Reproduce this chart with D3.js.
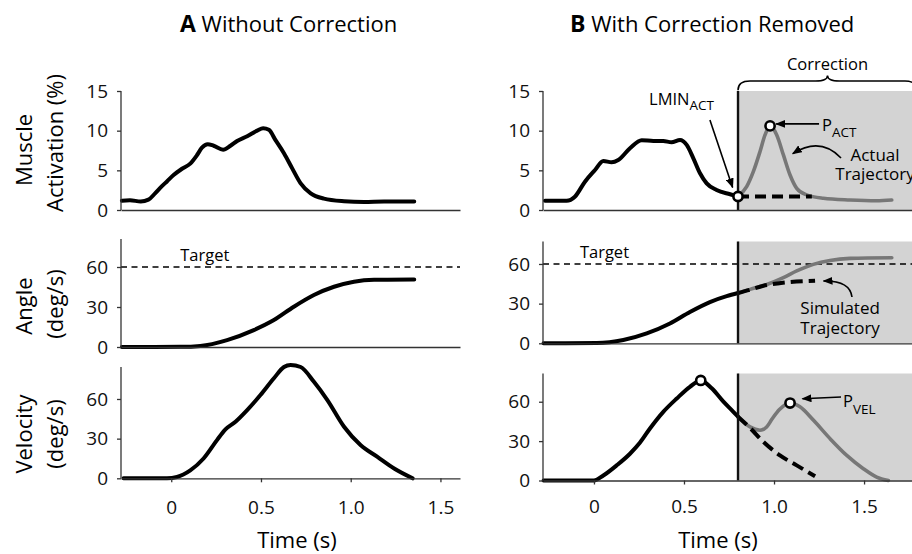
<!DOCTYPE html>
<html><head><meta charset="utf-8">
<script src="https://cdn.jsdelivr.net/npm/d3@7"></script>
<style>body{margin:0;background:#fff} svg{display:block;font-family:"Open Sans",sans-serif}</style>
</head><body><svg id="c" width="912" height="554"></svg>
<script>
// ---------- data ----------
const timeTicks = [0, 0.5, 1.0, 1.5];
const timeTickLabels = ["0", "0.5", "1.0", "1.5"];
const actTicks = [0, 5, 10, 15];
const angleTicks = [0, 30, 60];
const velTicks = [0, 30, 60];
const targetAngle = 60;
const correctionStart = 0.8;

// Panel A – without correction
const actA = [[-0.275,1.17],[-0.23,1.22],[-0.17,1.08],[-0.127,1.3],[-0.09,2.1],[-0.052,3.0],[-0.024,3.6],[0.013,4.4],[0.06,5.2],[0.106,5.85],[0.143,6.9],[0.171,7.85],[0.203,8.3],[0.236,8.1],[0.289,7.6],[0.33,8.1],[0.367,8.7],[0.423,9.3],[0.479,10.0],[0.512,10.3],[0.544,10.1],[0.581,8.8],[0.628,7.15],[0.674,5.25],[0.72,3.4],[0.777,2.1],[0.851,1.43],[0.963,1.1],[1.074,1.0],[1.186,1.08],[1.354,1.08]];
const angleA = [[-0.275,0],[-0.1,0],[0.05,0.1],[0.162,0.8],[0.311,5.2],[0.46,12.7],[0.572,20.2],[0.683,30.2],[0.795,39],[0.907,45.2],[1.018,49],[1.13,50.4],[1.354,50.6]];
const velA = [[-0.266,0],[-0.024,0],[0.032,1],[0.106,6],[0.18,15],[0.255,28.9],[0.302,37],[0.358,42.8],[0.423,51.6],[0.497,63],[0.572,75.7],[0.628,84.2],[0.665,85.8],[0.721,84.2],[0.795,73],[0.87,59.2],[0.963,39],[1.056,25],[1.149,16.2],[1.242,7.4],[1.345,0]];

// Panel B – with correction removed
const actB = [[-0.272,1.17],[-0.152,1.17],[-0.106,1.68],[-0.05,3.57],[0.006,5.04],[0.052,6.18],[0.098,6.01],[0.135,6.3],[0.2,7.78],[0.265,8.8],[0.33,8.7],[0.385,8.7],[0.431,8.54],[0.478,8.83],[0.515,8.2],[0.552,6.52],[0.589,4.63],[0.626,3.36],[0.681,2.52],[0.756,1.98],[0.8,1.7]];
const actBActual = [[0.8,1.7],[0.848,2.94],[0.885,4.83],[0.922,7.35],[0.95,9.46],[0.978,10.6],[1.015,9.46],[1.052,6.94],[1.089,4.41],[1.126,2.73],[1.181,1.9],[1.274,1.47],[1.422,1.26],[1.57,1.17],[1.654,1.26]];
const actBSim = [[0.8,1.7],[1.21,1.7]];
const angleB = [[-0.28,0],[0.015,0.2],[0.163,2.5],[0.293,7.5],[0.422,15],[0.533,23.7],[0.644,31.2],[0.737,35.7],[0.8,38]];
const angleBActual = [[0.8,38],[0.867,40.8],[0.96,44.5],[1.052,49.7],[1.126,54.7],[1.218,59.7],[1.311,62.7],[1.422,64.2],[1.654,64.7]];
const angleBSim = [[0.8,38],[0.867,40.5],[0.941,43.5],[1.02,45.3],[1.089,46.3],[1.228,47.3]];
const velB = [[-0.28,0],[0,0],[0.052,3.8],[0.126,11.5],[0.2,20.4],[0.256,28.9],[0.311,39.6],[0.385,52.3],[0.46,62.5],[0.533,71.4],[0.593,76.2],[0.654,70.2],[0.719,60],[0.774,52.3],[0.8,48.6]];
const velBActual = [[0.8,48.6],[0.867,40.8],[0.922,38.3],[0.959,40.8],[0.99,47],[1.03,54],[1.089,59],[1.144,56.1],[1.218,46],[1.311,31.9],[1.404,19.1],[1.496,9],[1.57,2.6],[1.635,0]];
const velBSim = [[0.8,48.6],[0.867,40],[0.941,29.4],[1.033,19.1],[1.126,11.5],[1.228,3.3]];

// marked points
const lminAct = [0.8, 1.7];
const pAct = [0.978, 10.6];
const peakVel = [0.593, 76.2];
const pVel = [1.089, 59];

// ---------- drawing ----------
const svg = d3.select("#c");
const FONT = '"Open Sans", sans-serif';
const GRAYLINE = "#777";
const SHADE = "#d3d3d3";

const defs = svg.append("defs");
defs.append("marker").attr("id","ah").attr("markerUnits","userSpaceOnUse")
  .attr("markerWidth",10).attr("markerHeight",8).attr("refX",9).attr("refY",4)
  .attr("orient","auto").append("path").attr("d","M0,0L10,4L0,8Z").attr("fill","#000");

const cols = {
  A: {range:[121,460], domain:[-0.28,1.609]},
  B: {range:[543,917], domain:[-0.283,1.794]}
};
const rows = {
  A: [ {range:[210,91], domain:[0,15], ticks:actTicks},
       {range:[347,239], domain:[0,81], ticks:angleTicks},
       {range:[478.3,367], domain:[0,84.2], ticks:velTicks} ],
  B: [ {range:[210,91], domain:[0,15], ticks:actTicks},
       {range:[343.3,241.5], domain:[0,77], ticks:angleTicks},
       {range:[480.5,373.5], domain:[0,81.5], ticks:velTicks} ]
};
const xPad = {A:18, B:15};

function makePanel(col, r) {
  const c = cols[col], rw = rows[col][r];
  const x = d3.scaleLinear().domain(c.domain).range(c.range);
  const y = d3.scaleLinear().domain(rw.domain).range(rw.range);
  return {x, y, rw, c};
}

function line(p, data) {
  return d3.line().x(d => p.x(d[0])).y(d => p.y(d[1])).curve(d3.curveMonotoneX)(data);
}

function drawCurve(p, data, color, width, dash) {
  const path = svg.append("path").attr("d", line(p, data)).attr("fill","none")
    .attr("stroke", color).attr("stroke-width", width)
    .attr("stroke-linejoin","round").attr("stroke-linecap", dash ? "butt" : "round");
  if (dash) path.attr("stroke-dasharray", dash);
}

function drawShade(p) {
  svg.append("rect").attr("x", p.x(correctionStart)).attr("y", p.y(p.rw.domain[1]))
    .attr("width", p.x(p.c.domain[1]) - p.x(correctionStart))
    .attr("height", p.y(0) - p.y(p.rw.domain[1])).attr("fill", SHADE);
}
function drawVLine(p) {
  svg.append("line").attr("x1", p.x(correctionStart)).attr("x2", p.x(correctionStart))
    .attr("y1", p.y(p.rw.domain[1])).attr("y2", p.y(0)).attr("stroke","#111").attr("stroke-width",2.4);
}
function drawTarget(p, labelT, labelV) {
  svg.append("line").attr("x1", p.x(p.c.domain[0])).attr("x2", p.x(p.c.domain[1]))
    .attr("y1", p.y(targetAngle)).attr("y2", p.y(targetAngle))
    .attr("stroke","#000").attr("stroke-width",1.5).attr("stroke-dasharray","6,4.5");
  svg.append("text").attr("x", p.x(labelT)).attr("y", p.y(labelV))
    .attr("font-size",16.5).attr("font-family",FONT).text("Target");
}
function drawAxes(p, col, showX) {
  const gy = svg.append("g").attr("transform", `translate(${p.x(p.c.domain[0])},0)`)
    .call(d3.axisLeft(p.y).tickValues(p.rw.ticks).tickSize(4).tickSizeOuter(0).tickPadding(9));
  const gx = svg.append("g").attr("transform", `translate(0,${p.y(0)})`)
    .call(d3.axisBottom(p.x).tickValues(timeTicks).tickSize(showX ? 4 : 0).tickSizeOuter(0)
      .tickPadding(xPad[col]).tickFormat((d,i) => showX ? timeTickLabels[i] : ""));
  [gy, gx].forEach(g => {
    g.attr("font-family", FONT).attr("font-size", 19);
    g.selectAll("path, line").attr("stroke","#333").attr("stroke-width",1.3);
    g.selectAll("text").attr("fill","#111");
  });
  gy.select(".domain").attr("d", `M0,${p.y(0)}V${p.y(p.rw.domain[1])}`);
}
function drawCircle(p, pt) {
  svg.append("circle").attr("cx", p.x(pt[0])).attr("cy", p.y(pt[1])).attr("r",4.6)
    .attr("fill","#fff").attr("stroke","#000").attr("stroke-width",2.6);
}
function arrow(p, from, to, ctrl) {
  const d = ctrl
    ? `M${p.x(from[0])},${p.y(from[1])}Q${p.x(ctrl[0])},${p.y(ctrl[1])} ${p.x(to[0])},${p.y(to[1])}`
    : `M${p.x(from[0])},${p.y(from[1])}L${p.x(to[0])},${p.y(to[1])}`;
  svg.append("path").attr("d", d).attr("fill","none").attr("stroke","#000")
    .attr("stroke-width",1.6).attr("marker-end","url(#ah)");
}
function subLabel(p, t, v, main, sub, dy) {
  const tx = svg.append("text").attr("x", p.x(t)).attr("y", p.y(v))
    .attr("font-family",FONT).attr("font-size",16.5).text(main);
  tx.append("tspan").attr("font-size",13.5).attr("dy", dy).text(sub);
}
function label(p, t, v, str, anchor, size) {
  svg.append("text").attr("x", p.x(t)).attr("y", p.y(v)).attr("text-anchor", anchor || "start")
    .attr("font-family",FONT).attr("font-size", size || 16.5).text(str);
}

// ---- Panel A ----
const a0 = makePanel("A",0), a1 = makePanel("A",1), a2 = makePanel("A",2);
drawCurve(a0, actA, "#000", 4);
drawAxes(a0, "A", false);
drawTarget(a1, 0.05, 64.5);
drawCurve(a1, angleA, "#000", 4);
drawAxes(a1, "A", false);
drawCurve(a2, velA, "#000", 4);
drawAxes(a2, "A", true);

// ---- Panel B ----
const b0 = makePanel("B",0), b1 = makePanel("B",1), b2 = makePanel("B",2);
// top
drawShade(b0);
drawCurve(b0, actBActual, GRAYLINE, 3.6);
drawCurve(b0, actBSim, "#000", 4, "11,6");
drawCurve(b0, actB, "#000", 4);
drawVLine(b0);
drawAxes(b0, "B", false);
drawCircle(b0, lminAct);
drawCircle(b0, pAct);
subLabel(b0, 0.306, 13.24, "LMIN", "ACT", 5);
arrow(b0, [0.644, 11.35], [0.77, 2.85]);
subLabel(b0, 1.267, 9.96, "P", "ACT", 6);
arrow(b0, [1.25, 10.85], [1.012, 10.85]);
label(b0, 1.561, 6.2, "Actual", "middle", 17);
label(b0, 1.561, 3.75, "Trajectory", "middle", 17);
arrow(b0, [1.372, 6.56], [1.104, 7.1], [1.256, 9.3]);
// brace + "Correction"
{
  const xl = b0.x(correctionStart), xr = b0.x(b0.c.domain[1]), xc = (xl + xr) / 2;
  const yEnd = b0.y(15.1), yArm = b0.y(16.25), yTip = b0.y(16.95);
  svg.append("path").attr("fill","none").attr("stroke","#000").attr("stroke-width",1.5)
    .attr("d", `M${xl},${yEnd}Q${xl},${yArm} ${xl+12},${yArm}L${xc-12},${yArm}Q${xc},${yArm} ${xc},${yTip}` +
               `Q${xc},${yArm} ${xc+12},${yArm}L${xr-12},${yArm}Q${xr},${yArm} ${xr},${yEnd}`);
  svg.append("text").attr("x", xc).attr("y", b0.y(17.65)).attr("text-anchor","middle")
    .attr("font-family",FONT).attr("font-size",16.5).text("Correction");
}
// middle
drawShade(b1);
drawTarget(b1, -0.078, 64.2);
drawCurve(b1, angleBActual, GRAYLINE, 3.6);
drawCurve(b1, angleBSim, "#000", 4, "12,6");
drawCurve(b1, angleB, "#000", 4);
drawVLine(b1);
drawAxes(b1, "B", false);
label(b1, 1.367, 22.5, "Simulated", "middle", 17);
label(b1, 1.367, 7.4, "Trajectory", "middle", 17);
arrow(b1, [1.433, 35], [1.275, 47.1], [1.422, 47.5]);
// bottom
drawShade(b2);
drawCurve(b2, velBActual, GRAYLINE, 3.6);
drawCurve(b2, velBSim, "#000", 4, "12,6");
drawCurve(b2, velB, "#000", 4);
drawVLine(b2);
drawAxes(b2, "B", true);
drawCircle(b2, peakVel);
drawCircle(b2, pVel);
subLabel(b2, 1.383, 56, "P", "VEL", 7);
arrow(b2, [1.372, 63.6], [1.158, 62.3]);

// ---- titles and axis labels ----
function title(x, letter, rest) {
  const t = svg.append("text").attr("x", x).attr("y", 32).attr("font-family",FONT).attr("font-size",22);
  t.append("tspan").attr("font-weight","bold").attr("font-size",23).text(letter);
  t.append("tspan").text(" " + rest);
}
title(180, "A", "Without Correction");
title(570, "B", "With Correction Removed");

function ylab(xb, yc, str) {
  svg.append("text").attr("transform", `translate(${xb},${yc}) rotate(-90)`)
    .attr("text-anchor","middle").attr("font-family",FONT).attr("font-size",22).text(str);
}
ylab(32, 150, "Muscle");
ylab(63, 143, "Activation (%)");
ylab(32, 306, "Angle");
ylab(63, 304, "(deg/s)");
ylab(32, 434, "Velocity");
ylab(63, 434, "(deg/s)");

svg.append("text").attr("x", 297).attr("y", 548).attr("text-anchor","middle")
  .attr("font-family",FONT).attr("font-size",22).text("Time (s)");
svg.append("text").attr("x", 718).attr("y", 548).attr("text-anchor","middle")
  .attr("font-family",FONT).attr("font-size",22).text("Time (s)");
</script></body></html>
